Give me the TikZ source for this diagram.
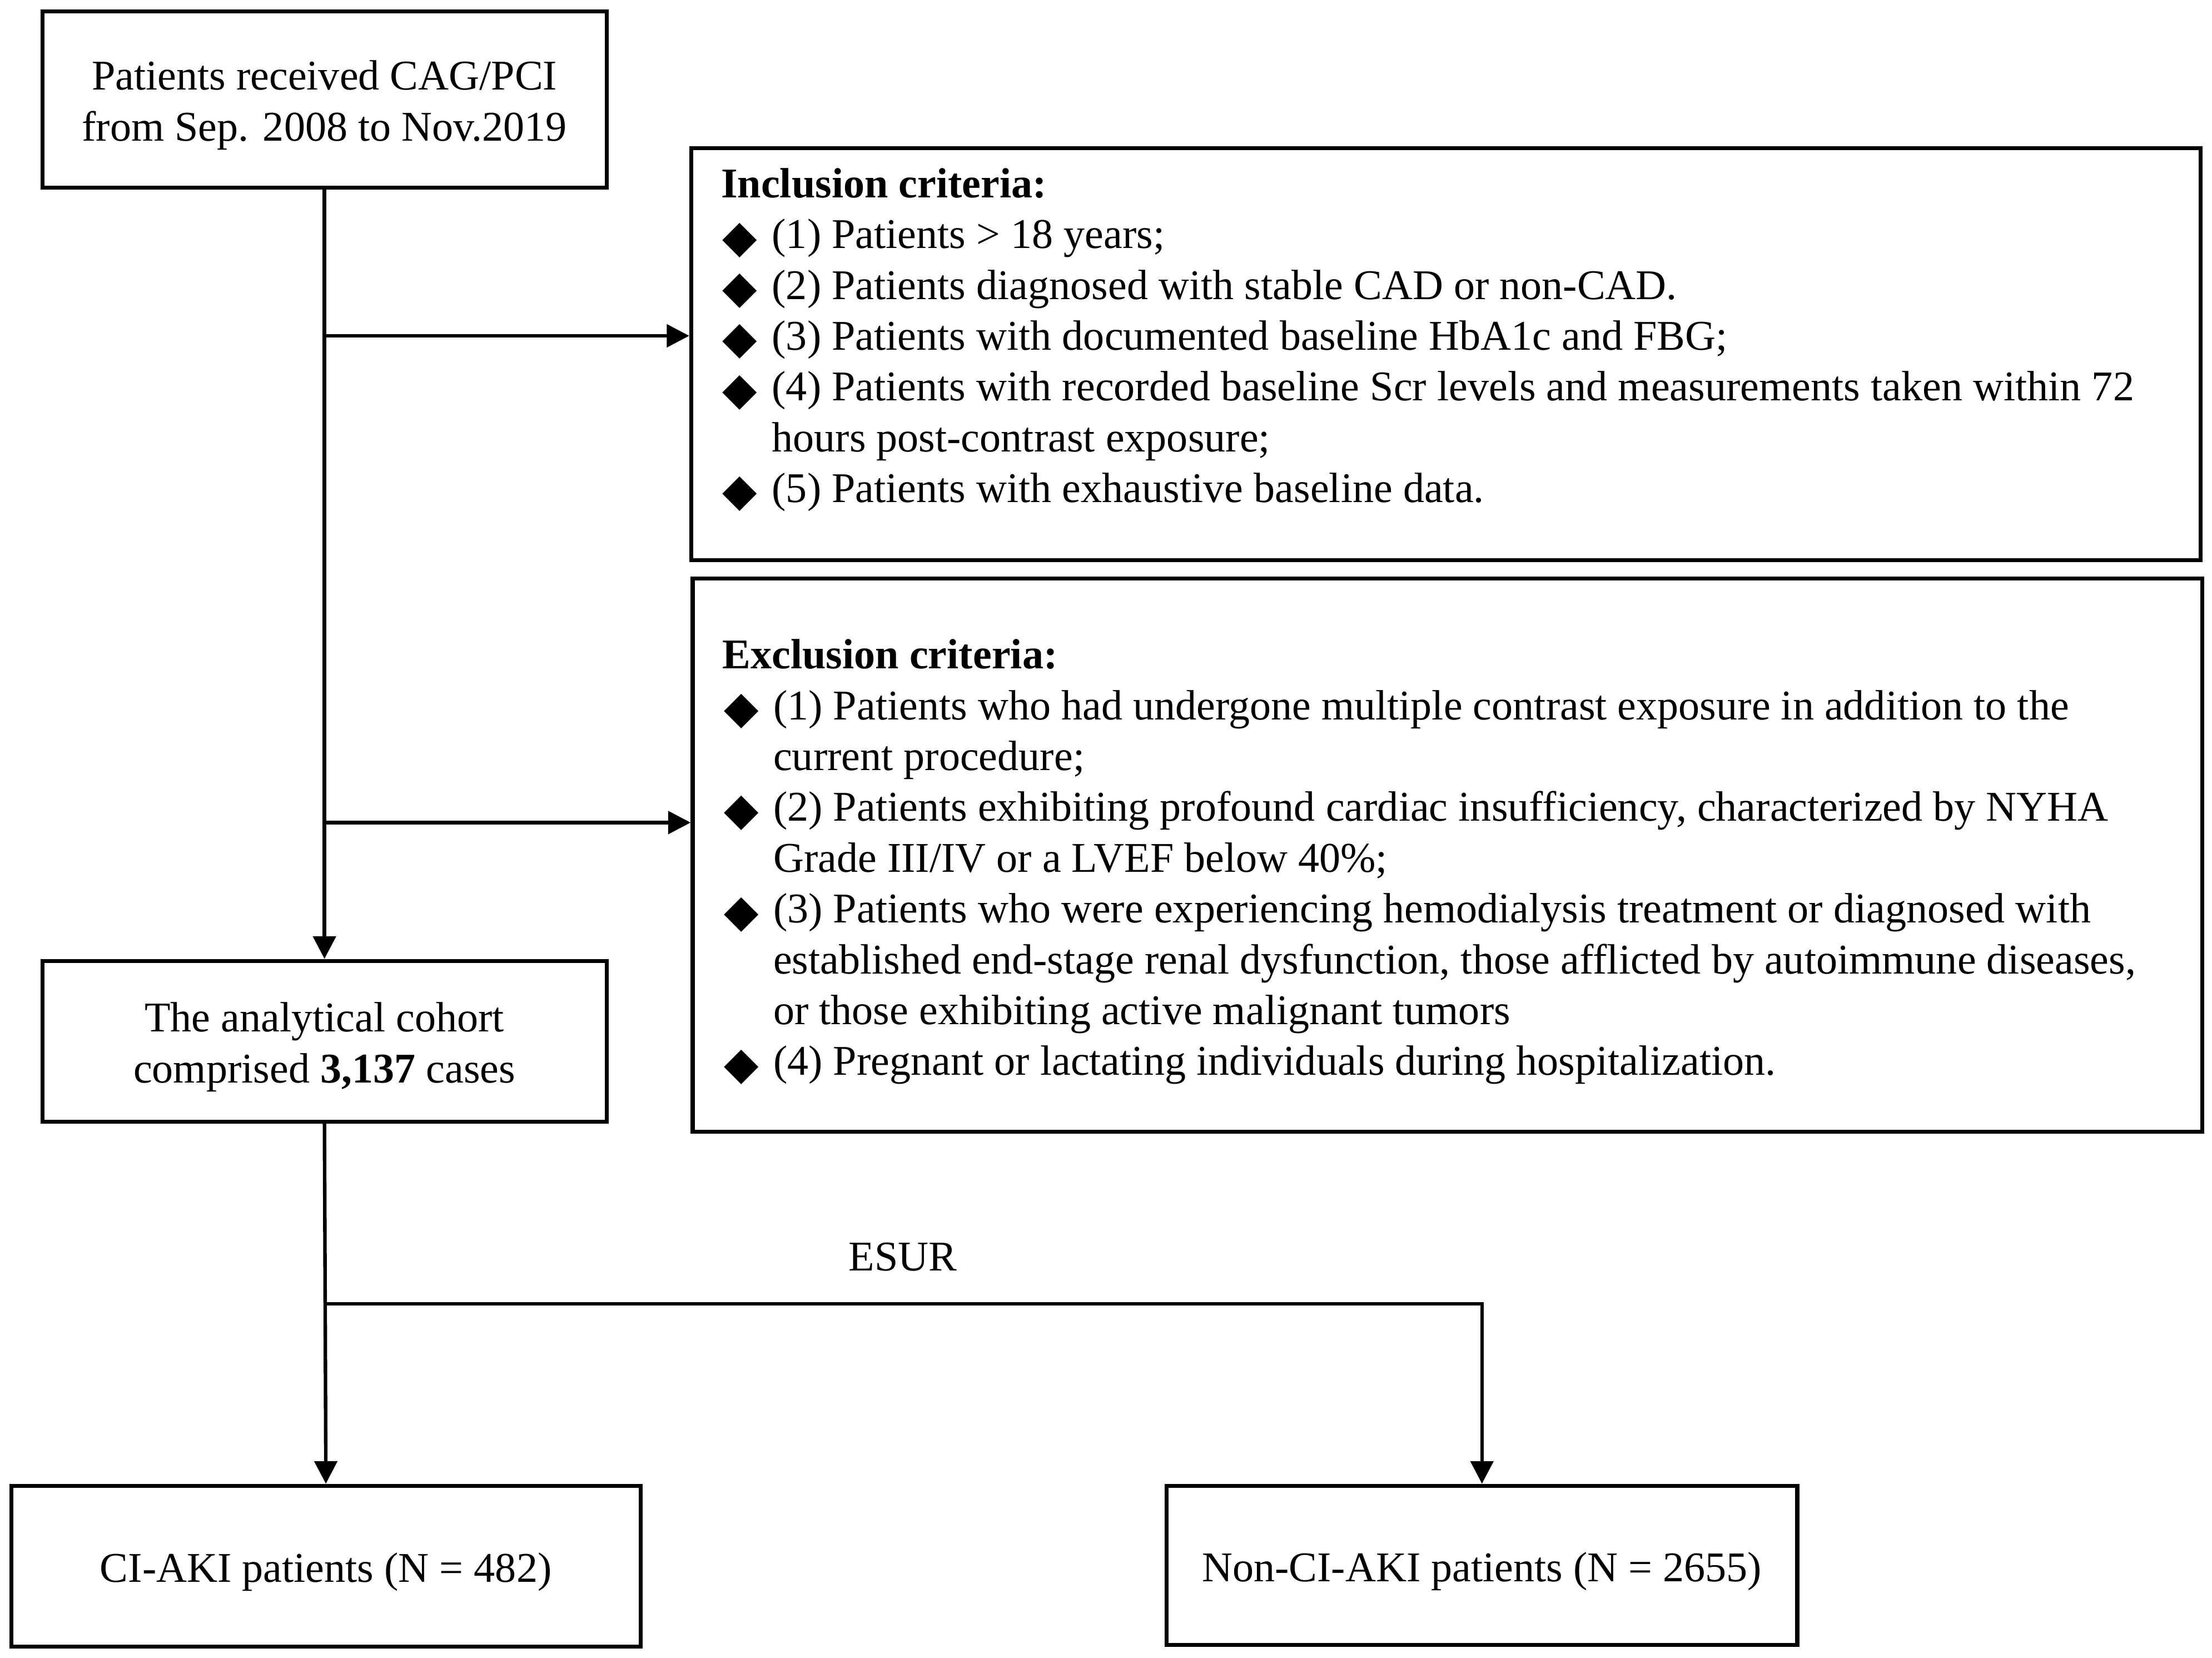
\documentclass[tikz,border=0pt]{standalone}
\usepackage{fontspec}
\setmainfont{Liberation Serif}
\newfontfamily\dvfont{DejaVu Sans}
\usetikzlibrary{arrows.meta}
\newcommand{\dm}{\makebox[36pt][l]{\hspace*{1pt}\raisebox{-2.5pt}{\dvfont\fontsize{32}{36}\selectfont ◆}}}
\newcommand{\ind}{\hspace*{36pt}}
\newcommand{\up}{\rule{0pt}{29pt}}
\begin{document}
\begin{tikzpicture}[x=1pt,y=-1pt,
  every node/.style={font=\fontsize{30}{36}\selectfont},
  box/.style={draw,line width=2.8pt,inner sep=0pt,align=center},
  txt/.style={inner sep=0pt,align=left,anchor=north west},
  arr/.style={line width=2.5pt,-{Triangle[length=16pt,width=16pt]}}]
\useasboundingbox (0,0) rectangle (1568,1175);
\node[box,minimum width=400pt,minimum height=125pt] (b1) at (230,70.5)
  {\up Patients received CAG/PCI\\from Sep. 2008 to Nov.2019};
\node[box,minimum width=1070pt,minimum height=292pt] (incl) at (1025,251) {};
\node[txt] (incltxt) at (511,119)
  {\textbf{Inclusion criteria:}\\
   \dm(1) Patients > 18 years;\\
   \dm(2) Patients diagnosed with stable CAD or non-CAD.\\
   \dm(3) Patients with documented baseline HbA1c and FBG;\\
   \dm(4) Patients with recorded baseline Scr levels and measurements taken within 72\\
   \ind hours post-contrast exposure;\\
   \dm(5) Patients with exhaustive baseline data.};
\node[box,minimum width=1070pt,minimum height=392pt] (excl) at (1026,606) {};
\node[txt] (excltxt) at (512,453)
  {\textbf{Exclusion criteria:}\\
   \dm(1) Patients who had undergone multiple contrast exposure in addition to the\\
   \ind current procedure;\\
   \dm(2) Patients exhibiting profound cardiac insufficiency, characterized by NYHA\\
   \ind Grade III/IV or a LVEF below 40\%;\\
   \dm(3) Patients who were experiencing hemodialysis treatment or diagnosed with\\
   \ind established end-stage renal dysfunction, those afflicted by autoimmune diseases,\\
   \ind or those exhibiting active malignant tumors\\
   \dm(4) Pregnant or lactating individuals during hospitalization.};
\node[box,minimum width=400pt,minimum height=114pt] (b2) at (230,738)
  {\up The analytical cohort\\comprised \textbf{3,137} cases};
\node[box,minimum width=446pt,minimum height=114pt] (ci) at (231,1110)
  {\up CI-AKI patients (N = 482)};
\node[box,minimum width=447pt,minimum height=113pt] (nonci) at (1050.5,1109.5)
  {\up Non-CI-AKI patients (N = 2655)};
\node[inner sep=0pt] (esur) at (640,891) {ESUR};
\coordinate (j1) at (230,238);
\coordinate (j2) at (230,583);
\coordinate (j3) at (231,924);
\draw[arr] (b1.south) -- (b2.north);
\draw[arr] (j1) -- (j1 -| incl.west);
\draw[arr] (j2) -- (j2 -| excl.west);
\draw[arr] (b2.south) -- (ci.north);
\draw[arr] (j3) -| (nonci.north);
\end{tikzpicture}
\end{document}
